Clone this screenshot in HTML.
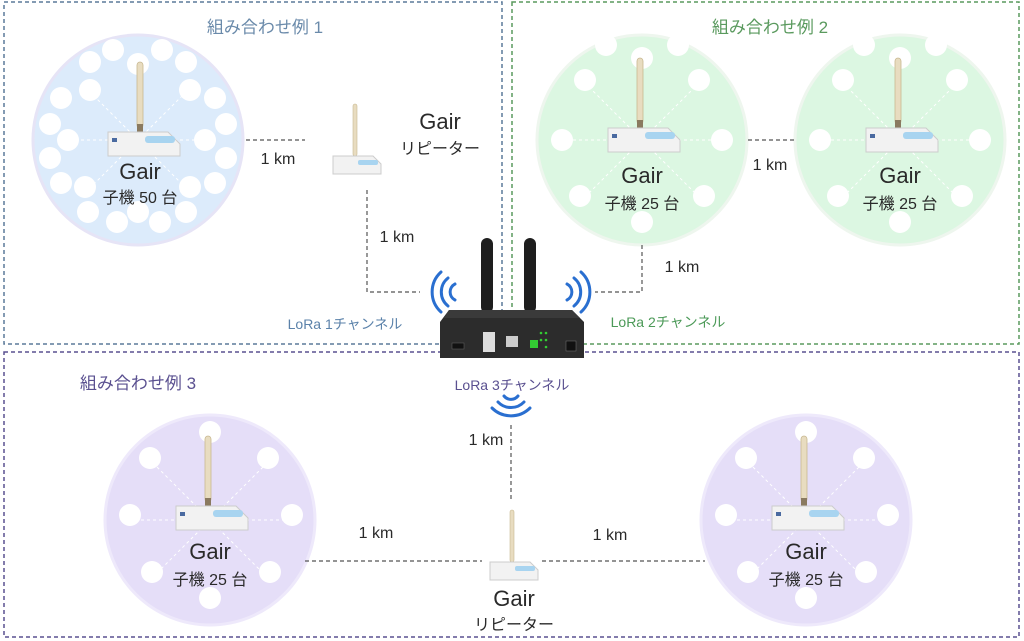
<!DOCTYPE html>
<html><head><meta charset="utf-8"><style>
body{margin:0;background:#fff}
svg{display:block}
text{font-family:"Liberation Sans","Noto Sans CJK JP",sans-serif}
</style></head><body>
<svg width="1024" height="641" viewBox="0 0 1024 641" xmlns="http://www.w3.org/2000/svg">
<defs>
<g id="dev">
 <rect x="-3" y="-76" width="6" height="66" rx="3" fill="#e8dcc0" stroke="#c8b890" stroke-width="0.8"/>
 <rect x="-3" y="-14" width="6" height="8" fill="#8a7a60"/>
 <path d="M-32 -6 L28 -6 L40 6 L40 18 L-32 18 Z" fill="#f2f2f2" stroke="#ccc"/>
 <rect x="5" y="-2" width="30" height="7" rx="3" fill="#a8d4f0"/>
 <rect x="-28" y="0" width="5" height="4" fill="#4a6aa0"/>
</g>
<g id="devs">
 <rect x="-2" y="-58" width="4" height="52" rx="2" fill="#e8dcc0" stroke="#c8b890" stroke-width="0.6"/>
 <path d="M-22 -6 L18 -6 L26 2 L26 12 L-22 12 Z" fill="#f2f2f2" stroke="#ccc"/>
 <rect x="3" y="-2" width="20" height="5" rx="2" fill="#a8d4f0"/>
</g>
</defs>
<rect x="4" y="2" width="498" height="342" fill="none" stroke="#5b7a9a" stroke-width="1.5" stroke-dasharray="4 3"/>
<rect x="512" y="2" width="507" height="342" fill="none" stroke="#5a9a5e" stroke-width="1.5" stroke-dasharray="4 3"/>
<rect x="4" y="352" width="1015" height="285" fill="none" stroke="#5a5090" stroke-width="1.5" stroke-dasharray="4 3"/>
<text x="265" y="33" font-size="17" fill="#6a8aaa" text-anchor="middle">組み合わせ例 1</text>
<text x="770" y="33" font-size="17" fill="#5a9a5e" text-anchor="middle">組み合わせ例 2</text>
<text x="138" y="389" font-size="17" fill="#5a5090" text-anchor="middle">組み合わせ例 3</text>

<circle cx="138" cy="140" r="105" fill="#dcebfb" stroke="#e6e4f6" stroke-width="3"/>
<circle cx="642" cy="140" r="105" fill="#dcf7e2" stroke="#eef6ee" stroke-width="3"/>
<circle cx="900" cy="140" r="105" fill="#dcf7e2" stroke="#eef6ee" stroke-width="3"/>
<circle cx="210" cy="520" r="105" fill="#e5def8" stroke="#eee9fb" stroke-width="3"/>
<circle cx="806" cy="520" r="105" fill="#e5def8" stroke="#eee9fb" stroke-width="3"/>

<g fill="#fff" stroke="#fff" stroke-width="1" stroke-dasharray="3 3">
<line x1="138" y1="140" x2="68" y2="140"/><line x1="138" y1="140" x2="205" y2="140"/><line x1="138" y1="140" x2="138" y2="64"/><line x1="138" y1="140" x2="90" y2="92"/><line x1="138" y1="140" x2="186" y2="92"/><line x1="138" y1="140" x2="90" y2="188"/><line x1="138" y1="140" x2="186" y2="188"/>
<line x1="642" y1="140" x2="562" y2="140"/><line x1="642" y1="140" x2="722" y2="140"/><line x1="642" y1="140" x2="642" y2="60"/><line x1="642" y1="140" x2="585" y2="83"/><line x1="642" y1="140" x2="699" y2="83"/><line x1="642" y1="140" x2="585" y2="197"/><line x1="642" y1="140" x2="699" y2="197"/>
<line x1="900" y1="140" x2="820" y2="140"/><line x1="900" y1="140" x2="980" y2="140"/><line x1="900" y1="140" x2="900" y2="60"/><line x1="900" y1="140" x2="843" y2="83"/><line x1="900" y1="140" x2="957" y2="83"/><line x1="900" y1="140" x2="843" y2="197"/><line x1="900" y1="140" x2="957" y2="197"/>
<line x1="210" y1="520" x2="130" y2="520"/><line x1="210" y1="520" x2="290" y2="520"/><line x1="210" y1="520" x2="210" y2="440"/><line x1="210" y1="520" x2="153" y2="463"/><line x1="210" y1="520" x2="267" y2="463"/><line x1="210" y1="520" x2="153" y2="577"/><line x1="210" y1="520" x2="267" y2="577"/>
<line x1="806" y1="520" x2="726" y2="520"/><line x1="806" y1="520" x2="886" y2="520"/><line x1="806" y1="520" x2="806" y2="440"/><line x1="806" y1="520" x2="749" y2="463"/><line x1="806" y1="520" x2="863" y2="463"/><line x1="806" y1="520" x2="749" y2="577"/><line x1="806" y1="520" x2="863" y2="577"/>
</g>
<g fill="#fff">
<circle cx="113" cy="50" r="11"/><circle cx="162" cy="50" r="11"/><circle cx="90" cy="62" r="11"/><circle cx="186" cy="62" r="11"/><circle cx="61" cy="98" r="11"/><circle cx="215" cy="98" r="11"/><circle cx="50" cy="124" r="11"/><circle cx="226" cy="124" r="11"/><circle cx="50" cy="158" r="11"/><circle cx="226" cy="158" r="11"/><circle cx="61" cy="183" r="11"/><circle cx="215" cy="183" r="11"/><circle cx="88" cy="212" r="11"/><circle cx="186" cy="212" r="11"/><circle cx="117" cy="222" r="11"/><circle cx="160" cy="222" r="11"/>
<circle cx="138" cy="64" r="11"/><circle cx="90" cy="90" r="11"/><circle cx="190" cy="90" r="11"/><circle cx="68" cy="140" r="11"/><circle cx="205" cy="140" r="11"/><circle cx="85" cy="187" r="11"/><circle cx="190" cy="187" r="11"/><circle cx="138" cy="212" r="11"/>
<circle cx="642" cy="58" r="11"/><circle cx="585" cy="80" r="11"/><circle cx="699" cy="80" r="11"/><circle cx="562" cy="140" r="11"/><circle cx="722" cy="140" r="11"/><circle cx="580" cy="196" r="11"/><circle cx="704" cy="196" r="11"/><circle cx="642" cy="222" r="11"/><circle cx="606" cy="45" r="11"/><circle cx="678" cy="45" r="11"/>
<circle cx="900" cy="58" r="11"/><circle cx="843" cy="80" r="11"/><circle cx="957" cy="80" r="11"/><circle cx="820" cy="140" r="11"/><circle cx="980" cy="140" r="11"/><circle cx="838" cy="196" r="11"/><circle cx="962" cy="196" r="11"/><circle cx="900" cy="222" r="11"/><circle cx="864" cy="45" r="11"/><circle cx="936" cy="45" r="11"/>
<circle cx="210" cy="432" r="11"/><circle cx="150" cy="458" r="11"/><circle cx="268" cy="458" r="11"/><circle cx="130" cy="515" r="11"/><circle cx="292" cy="515" r="11"/><circle cx="152" cy="572" r="11"/><circle cx="270" cy="572" r="11"/><circle cx="210" cy="598" r="11"/>
<circle cx="806" cy="432" r="11"/><circle cx="746" cy="458" r="11"/><circle cx="864" cy="458" r="11"/><circle cx="726" cy="515" r="11"/><circle cx="888" cy="515" r="11"/><circle cx="748" cy="572" r="11"/><circle cx="866" cy="572" r="11"/><circle cx="806" cy="598" r="11"/>
</g>

<use href="#dev" transform="translate(140,138)"/>
<use href="#dev" transform="translate(640,134)"/>
<use href="#dev" transform="translate(898,134)"/>
<use href="#dev" transform="translate(208,512)"/>
<use href="#dev" transform="translate(804,512)"/>
<use href="#devs" transform="translate(355,162)"/>
<use href="#devs" transform="translate(512,568)"/>

<g fill="#2a2a2a" text-anchor="middle">
<text x="140" y="179" font-size="22">Gair</text><text x="140" y="203" font-size="16">子機 50 台</text>
<text x="642" y="183" font-size="22">Gair</text><text x="642" y="209" font-size="16">子機 25 台</text>
<text x="900" y="183" font-size="22">Gair</text><text x="900" y="209" font-size="16">子機 25 台</text>
<text x="210" y="559" font-size="22">Gair</text><text x="210" y="585" font-size="16">子機 25 台</text>
<text x="806" y="559" font-size="22">Gair</text><text x="806" y="585" font-size="16">子機 25 台</text>
<text x="440" y="129" font-size="22">Gair</text><text x="440" y="154" font-size="16">リピーター</text>
<text x="514" y="606" font-size="22">Gair</text><text x="514" y="630" font-size="16">リピーター</text>
<text x="278" y="164" font-size="16">1 km</text>
<text x="397" y="242" font-size="16">1 km</text>
<text x="682" y="272" font-size="16">1 km</text>
<text x="770" y="170" font-size="16">1 km</text>
<text x="486" y="445" font-size="16">1 km</text>
<text x="376" y="538" font-size="16">1 km</text>
<text x="610" y="540" font-size="16">1 km</text>
</g>

<g stroke="#555" stroke-width="1.2" stroke-dasharray="4 3" fill="none">
<path d="M246 140 H305"/>
<path d="M367 190 V292 H420"/>
<path d="M642 245 V292 H595"/>
<path d="M748 140 H795"/>
<path d="M511 425 V500"/>
<path d="M305 561 H482"/>
<path d="M542 561 H705"/>
</g>

<rect x="481" y="238" width="12" height="75" rx="6" fill="#1e1e1e"/>
<rect x="524" y="238" width="12" height="75" rx="6" fill="#1e1e1e"/>
<path d="M449 310 L572 310 L584 322 L584 358 L440 358 L440 322 Z" fill="#2c2c2c"/>
<path d="M449 310 L572 310 L580 318 L444 318 Z" fill="#3a3a3a"/>
<rect x="452" y="343" width="12" height="6" fill="#111" stroke="#666" stroke-width="0.5"/>
<rect x="483" y="332" width="12" height="20" fill="#ddd"/>
<rect x="506" y="336" width="12" height="11" fill="#ccc"/>
<rect x="530" y="340" width="8" height="8" fill="#3c3"/>
<g fill="#3c3"><circle cx="541" cy="333" r="1.3"/><circle cx="546" cy="333" r="1.3"/><circle cx="541" cy="340" r="1.3"/><circle cx="546" cy="340" r="1.3"/><circle cx="546" cy="347" r="1.3"/></g>
<rect x="566" y="341" width="10" height="10" fill="#111" stroke="#777" stroke-width="0.5"/>

<g stroke="#2a6fd0" stroke-width="3" fill="none" stroke-linecap="round">
<path d="M455 284 A9 9 0 0 0 455 300"/>
<path d="M448 278 A18 18 0 0 0 448 306"/>
<path d="M441 272 A27 27 0 0 0 441 312"/>
<path d="M567 284 A9 9 0 0 1 567 300"/>
<path d="M574 278 A18 18 0 0 1 574 306"/>
<path d="M581 272 A27 27 0 0 1 581 312"/>
<path d="M504 396 A9 9 0 0 0 518 396"/>
<path d="M498 402 A18 18 0 0 0 524 402"/>
<path d="M492 408 A27 27 0 0 0 530 408"/>
</g>

<text x="345" y="329" font-size="14" fill="#5b82aa" text-anchor="middle">LoRa 1チャンネル</text>
<text x="668" y="327" font-size="14" fill="#4c9a58" text-anchor="middle">LoRa 2チャンネル</text>
<text x="512" y="390" font-size="14" fill="#5a5090" text-anchor="middle">LoRa 3チャンネル</text>
</svg>
</body></html>
